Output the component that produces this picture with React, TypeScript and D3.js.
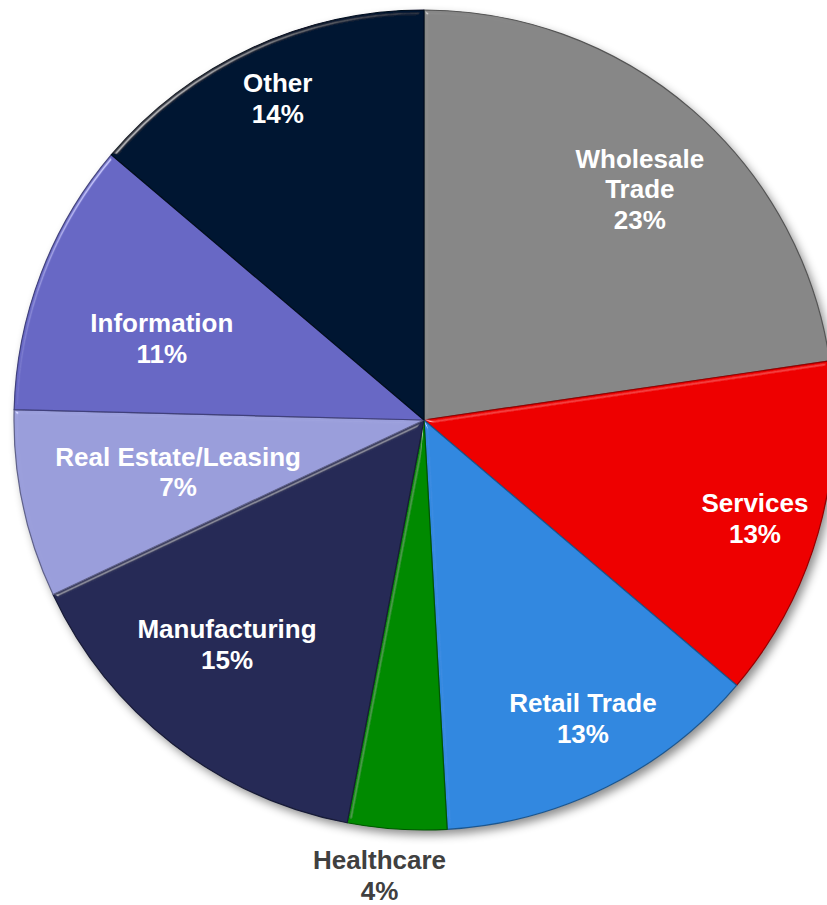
import React from "react";
import * as d3 from "d3";

const categories = ["Wholesale\nTrade", "Services", "Retail Trade", "Healthcare", "Manufacturing", "Real Estate/Leasing", "Information", "Other"];
const values = [22.7, 13.5, 12.9, 3.9, 15.0, 7.4, 10.8, 13.8];
const percentLabels = ["23%", "13%", "13%", "4%", "15%", "7%", "11%", "14%"];
const colors = ["#878787", "#EE0000", "#3088E0", "#008A00", "#272B57", "#9A9EDB", "#6767C5", "#061630"];
// layout config: label distance from centre (fraction of radius) and angle nudge (degrees)
const labelRadii = [0.771, 0.842, 0.824, 1.115, 0.728, 0.613, 0.67, 0.862];
const labelNudges = [2.2, 0.5, -1.6, 1.8, 3.5, 0, -3.5, 0.4];

const W = 827;
const H = 905;
const cx = 424;
const cy = 420;
const R = 410;

export default function App() {
  const pie = d3.pie<number>().sort(null).startAngle(0).endAngle(2 * Math.PI)(values);
  const arc = d3.arc<d3.PieArcDatum<number>>().innerRadius(0).outerRadius(R);
  const fontSize = 26;
  const lineH = 30.5;
  return (
    <svg width={W} height={H} style={{ position: "absolute", left: 0, top: 0, background: "#fff" }} fontFamily="Liberation Sans, Arial, sans-serif">
      <defs>
        <filter id="shadow" x="-10%" y="-10%" width="120%" height="120%">
          <feDropShadow dx="4" dy="5" stdDeviation="5" floodColor="#000" floodOpacity="0.45" />
        </filter>
        <filter id="bevel" x="-5%" y="-5%" width="110%" height="110%">
          <feGaussianBlur in="SourceAlpha" stdDeviation="2" result="blur" />
          <feSpecularLighting in="blur" surfaceScale="5" specularConstant="0.9" specularExponent="35" lightingColor="#ffffff" result="spec">
            <feDistantLight azimuth="225" elevation="20" />
          </feSpecularLighting>
          <feComposite in="spec" in2="SourceAlpha" operator="in" result="specOut" />
          <feComposite in="SourceGraphic" in2="specOut" operator="arithmetic" k1="0" k2="1" k3="0.5" k4="0" />
        </filter>
      </defs>
      <g transform={`translate(${cx},${cy})`}>
        <g filter="url(#shadow)">
          {pie.map((d, i) => (
            <path key={"s" + i} d={arc(d) || ""} fill={colors[i]} />
          ))}
        </g>
        {pie.map((d, i) => (
          <path
            key={"p" + i}
            d={arc(d) || ""}
            fill={colors[i]}
            stroke={d3.color(colors[i])!.darker(1.3).toString()}
            strokeWidth={1.2}
            strokeLinejoin="round"
            filter="url(#bevel)"
          />
        ))}
        {pie.map((d, i) => {
          const a = (d.startAngle + d.endAngle) / 2 + (labelNudges[i] * Math.PI) / 180;
          const r = R * labelRadii[i];
          const x = Math.sin(a) * r;
          const y = -Math.cos(a) * r;
          const lines = [...categories[i].split("\n"), percentLabels[i]];
          const top = y - ((lines.length - 1) * lineH) / 2 + fontSize * 0.36;
          const outside = labelRadii[i] > 1;
          return (
            <text
              key={"t" + i}
              x={x}
              y={top}
              textAnchor="middle"
              fontSize={fontSize}
              fontWeight="bold"
              fill={outside ? "#404040" : "#ffffff"}
            >
              {lines.map((l, j) => (
                <tspan key={j} x={x} y={top + j * lineH}>
                  {l}
                </tspan>
              ))}
            </text>
          );
        })}
      </g>
    </svg>
  );
}
